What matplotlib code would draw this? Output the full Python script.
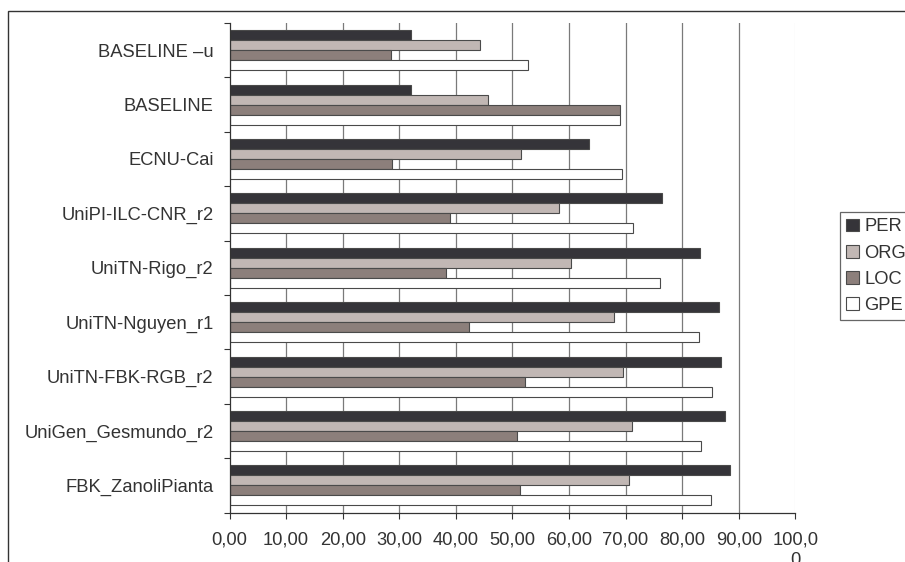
import numpy as np
import matplotlib
matplotlib.use("Agg")
import matplotlib.pyplot as plt
from matplotlib.patches import Rectangle

plt.rcParams['font.family'] = ['Liberation Sans', 'DejaVu Sans']

# dati (dall'alto verso il basso)
systems = ["BASELINE \u2013u", "BASELINE", "ECNU-Cai", "UniPI-ILC-CNR_r2",
           "UniTN-Rigo_r2", "UniTN-Nguyen_r1", "UniTN-FBK-RGB_r2",
           "UniGen_Gesmundo_r2", "FBK_ZanoliPianta"]
per = [32.1, 32.1, 63.6, 76.4, 83.2, 86.5, 86.8, 87.5, 88.4]
org = [44.2, 45.6, 51.5, 58.3, 60.4, 68.0, 69.6, 71.1, 70.6]
loc = [28.6, 69.1, 28.8, 38.9, 38.3, 42.4, 52.2, 50.8, 51.3]
gpe = [52.7, 69.0, 69.3, 71.4, 76.0, 82.9, 85.3, 83.4, 85.1]
series_names = ["PER", "ORG", "LOC", "GPE"]
x_ticks = [0, 10, 20, 30, 40, 50, 60, 70, 80, 90, 100]
x_labels = ["0,00", "10,00", "20,00", "30,00", "40,00", "50,00", "60,00",
            "70,00", "80,00", "90,00", "100,0\n0"]

colors = ["#353439", "#c1b7b4", "#8c7f7b", "#ffffff"]
edge = "#4a4a4a"
txt = "#333333"
fs = 13.2

fig = plt.figure(figsize=(9.05, 5.62), dpi=100)
ax = fig.add_axes([229.5 / 905, 1 - 512.5 / 562, (795.3 - 229.5) / 905, (512.5 - 23) / 562])

y = np.arange(len(systems))
h = 0.184
for k, (vals, c, name) in enumerate(zip([per, org, loc, gpe], colors, series_names)):
    ax.barh(y + (k - 1.5) * h, vals, height=h, color=c, edgecolor=edge,
            linewidth=0.8, label=name, zorder=3)

ax.set_xlim(0, 100)
ax.set_ylim(len(systems) - 0.5, -0.5)

ax.set_xticks(x_ticks)
ax.set_xticklabels(x_labels, fontsize=fs, color=txt, multialignment="center")
ax.tick_params(axis="x", direction="out", length=4, width=0.8, color="#333333", pad=10)

# tacche ai confini delle categorie, etichette al centro
ax.set_yticks(np.arange(len(systems) + 1) - 0.5)
ax.set_yticklabels([])
ax.set_yticks(y, minor=True)
ax.set_yticklabels(systems, minor=True, fontsize=fs, color=txt)
ax.tick_params(axis="y", which="major", direction="out", length=4, width=0.8, color="#333333")
ax.tick_params(axis="y", which="minor", length=0, pad=11.5)

for xv in x_ticks[1:-1]:
    ax.axvline(xv, color="#7a7a7a", linewidth=0.9, zorder=1)
ax.axvline(100, color="#eeeeee", linewidth=0.9, zorder=1)

for s in ["top", "right"]:
    ax.spines[s].set_visible(False)
for s in ["left", "bottom"]:
    ax.spines[s].set_color("#333333")
    ax.spines[s].set_linewidth(0.9)
    ax.spines[s].set_zorder(4)

handles, labels = ax.get_legend_handles_labels()
leg = fig.legend(handles, labels, loc="upper left",
                 bbox_to_anchor=(839.5 / 905, 1 - 212 / 562), borderaxespad=0,
                 fontsize=fs, frameon=True, fancybox=False, handlelength=0.7,
                 handleheight=0.7, handletextpad=0.3, labelspacing=0.5,
                 borderpad=0.35)
leg.get_frame().set_edgecolor("#404040")
leg.get_frame().set_linewidth(0.9)
for t in leg.get_texts():
    t.set_color(txt)

# cornice esterna
fig.patches.append(Rectangle((8 / 905, -0.1), 1.0, 1 - 11 / 562 + 0.1,
                             transform=fig.transFigure, fill=False,
                             edgecolor="#333333", linewidth=1.0))

fig.savefig("out.png", dpi=100)
